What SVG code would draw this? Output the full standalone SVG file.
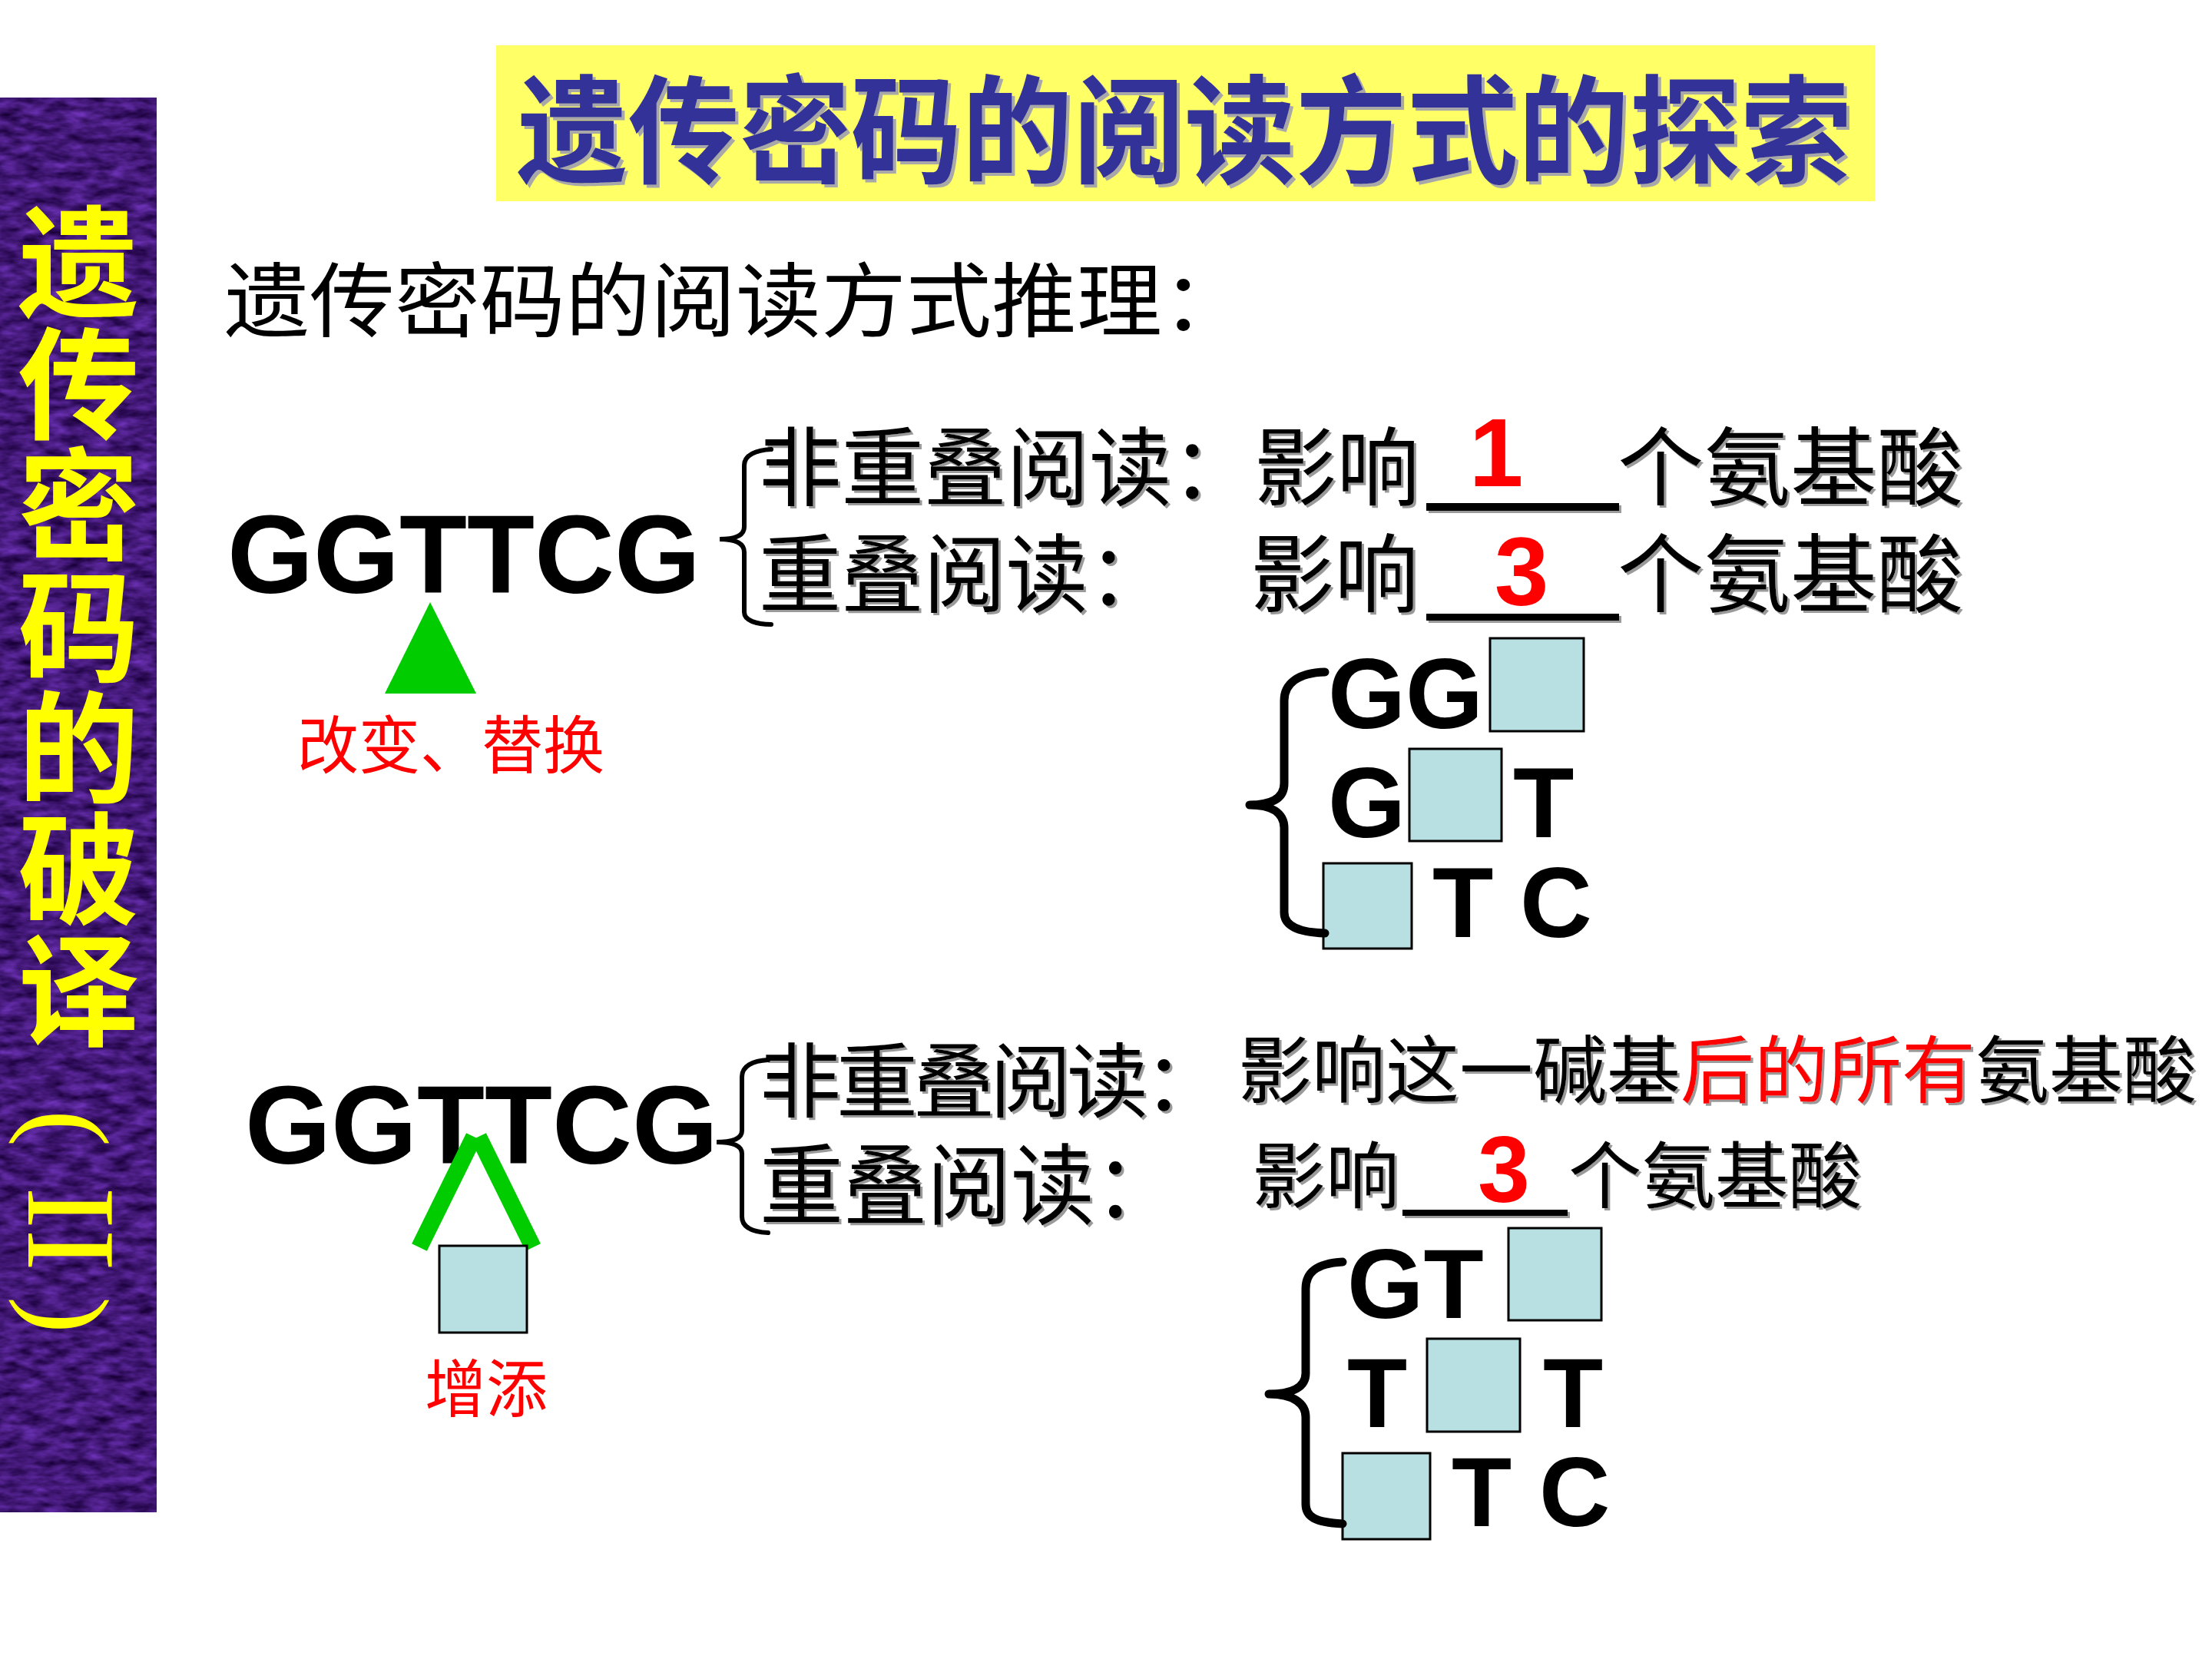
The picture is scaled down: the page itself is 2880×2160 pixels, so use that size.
<svg xmlns="http://www.w3.org/2000/svg" width="2880" height="2160" viewBox="0 0 2880 2160">
<defs>
<filter id="tex" x="0" y="0" width="1" height="1" color-interpolation-filters="sRGB">
<feTurbulence type="fractalNoise" baseFrequency="0.035 0.09" numOctaves="3" seed="7"/>
<feColorMatrix type="matrix" values="0.45 0 0 0 0.035  0.275 0 0 0 -0.0425  0.675 0 0 0 0.1275  0 0 0 0 1"/>
</filter>
<filter id="shadow" x="-5%" y="-5%" width="110%" height="120%">
<feOffset dx="4" dy="4" in="SourceAlpha" result="o"/>
<feFlood flood-color="#a8a8a8"/>
<feComposite in2="o" operator="in" result="s"/>
<feMerge><feMergeNode in="s"/><feMergeNode in="SourceGraphic"/></feMerge>
</filter>
<filter id="shadow2" x="-5%" y="-5%" width="110%" height="120%">
<feOffset dx="3" dy="3" in="SourceAlpha" result="o"/>
<feFlood flood-color="#9a9a9a"/>
<feComposite in2="o" operator="in" result="s"/>
<feMerge><feMergeNode in="s"/><feMergeNode in="SourceGraphic"/></feMerge>
</filter>
</defs>
<style>
.cjk{font-family:"Liberation Sans","Noto Sans CJK SC","Noto Sans CJK JP",sans-serif;}
.lat{font-family:"Liberation Sans",Arial,sans-serif;font-weight:bold;}
.ser{font-family:"Liberation Serif","Times New Roman",serif;}
.vert{writing-mode:vertical-rl;fill:#ffff00;}
.blk{fill:#000;}
.red{fill:#ff0000;}
.box{fill:#b8dfe2;stroke:#000;stroke-width:3;}
.brace{fill:none;stroke:#000;stroke-width:11;stroke-linecap:round;stroke-linejoin:round;}
.thin{fill:none;stroke:#000;stroke-width:6;stroke-linecap:round;}
.ul{fill:#000;}
</style>
<rect width="2880" height="2160" fill="#ffffff"/>

<g id="side-bar">
<rect x="0" y="127" width="204" height="1842" fill="#3a1670" filter="url(#tex)"/>
<text class="cjk vert" x="89" y="262" font-size="158" font-weight="bold">遗传密码的破译</text>
<text class="ser vert" x="90" y="1445" font-size="144">(</text>
<text class="ser vert" x="92" y="1545" font-size="165">II</text>
<text class="ser vert" x="90" y="1688" font-size="144">)</text>
</g>

<g id="title">
<rect x="646" y="59" width="1795" height="203" fill="#ffff66"/>
<text class="cjk" x="673" y="227" font-size="153" font-weight="bold" fill="#333399" textLength="1738" lengthAdjust="spacingAndGlyphs" filter="url(#shadow)">遗传密码的阅读方式的探索</text>
</g>

<g id="subtitle">
<text class="cjk blk" x="292" y="430" font-size="106" textLength="1332" lengthAdjust="spacingAndGlyphs">遗传密码的阅读方式推理：</text>
</g>

<g id="seq1">
<text class="lat blk" x="296" y="772" font-size="144">GGTTCG</text>
</g>

<g id="change-marker">
<polygon points="560,784 501,903 620,903" fill="#00cc00"/>
<text class="cjk red" x="387" y="1000" font-size="82" textLength="400" lengthAdjust="spacingAndGlyphs">改变、替换</text>
</g>

<g id="block1-lines" filter="url(#shadow2)">
<text class="cjk blk" x="988" y="650" font-size="112" textLength="860" lengthAdjust="spacingAndGlyphs">非重叠阅读：影响</text>
<rect class="ul" x="1857" y="655" width="251" height="10"/>
<text class="cjk blk" x="2106" y="650" font-size="112" textLength="450" lengthAdjust="spacingAndGlyphs">个氨基酸</text>
<text class="cjk blk" x="988" y="789" font-size="112" textLength="536" lengthAdjust="spacingAndGlyphs">重叠阅读：</text>
<text class="cjk blk" x="1628" y="789" font-size="112" textLength="219" lengthAdjust="spacingAndGlyphs">影响</text>
<rect class="ul" x="1857" y="799" width="251" height="9"/>
<text class="cjk blk" x="2106" y="789" font-size="112" textLength="450" lengthAdjust="spacingAndGlyphs">个氨基酸</text>
</g>
<g id="block1-answers">
<text class="lat red" x="1948" y="633" font-size="127" text-anchor="middle">1</text>
<text class="lat red" x="1981" y="788" font-size="127" text-anchor="middle">3</text>
</g>

<g id="block1-frames">
<rect class="box" x="1940" y="831" width="122" height="121"/>
<text class="lat blk" x="1729" y="948" font-size="130">GG</text>
<rect class="box" x="1835" y="975" width="120" height="120"/>
<text class="lat blk" x="1729" y="1090" font-size="130">G</text>
<text class="lat blk" x="1970" y="1090" font-size="130">T</text>
<rect class="box" x="1723" y="1124" width="115" height="111"/>
<text class="lat blk" x="1865" y="1220" font-size="130">T</text>
<text class="lat blk" x="1979" y="1220" font-size="130">C</text>
</g>

<g id="seq2">
<text class="lat blk" x="319" y="1515" font-size="144">GGTTCG</text>
</g>

<g id="insert-marker">
<line x1="546" y1="1624" x2="617" y2="1480" stroke="#00cc00" stroke-width="22"/>
<line x1="623" y1="1480" x2="694" y2="1624" stroke="#00cc00" stroke-width="22"/>
<rect class="box" x="572" y="1622" width="114" height="113"/>
<text class="cjk red" x="553" y="1838" font-size="82" textLength="160" lengthAdjust="spacingAndGlyphs">增添</text>
</g>

<g id="block2-lines" filter="url(#shadow2)">
<text class="cjk"><tspan x="989" y="1446" font-size="106" fill="#000" style="letter-spacing:-6px">非重叠阅读：</tspan><tspan x="1612" y="1428" font-size="96" fill="#000">影响这一碱基</tspan><tspan font-size="96" fill="#ff0000">后的所有</tspan><tspan font-size="96" fill="#000">氨基酸</tspan></text>
<text class="cjk blk" x="989" y="1585" font-size="115" textLength="545" lengthAdjust="spacingAndGlyphs">重叠阅读：</text>
<text class="cjk blk" x="1630" y="1566" font-size="95" textLength="192" lengthAdjust="spacingAndGlyphs">影响</text>
<rect class="ul" x="1826" y="1575" width="215" height="8"/>
<text class="cjk blk" x="2042" y="1566" font-size="95" textLength="382" lengthAdjust="spacingAndGlyphs">个氨基酸</text>
</g>
<g id="block2-answer">
<text class="lat red" x="1958" y="1565" font-size="122" text-anchor="middle">3</text>
</g>

<g id="block2-frames">
<rect class="box" x="1964" y="1599" width="121" height="120"/>
<text class="lat blk" x="1754" y="1716" font-size="128">GT</text>
<rect class="box" x="1858" y="1743" width="121" height="121"/>
<text class="lat blk" x="1754" y="1858" font-size="128">T</text>
<text class="lat blk" x="2009" y="1858" font-size="128">T</text>
<rect class="box" x="1748" y="1892" width="114" height="112"/>
<text class="lat blk" x="1890" y="1987" font-size="128">T</text>
<text class="lat blk" x="2004" y="1987" font-size="128">C</text>
</g>

<g id="connectors">
<path class="thin" d="M1004,585 C985,586 969,592 969,606 L969,686 C969,697 958,702 937,702 C958,702 969,708 969,719 L969,797 C969,808 985,813 1004,813"/>
<path class="thin" d="M1000,1380 C980,1381 966,1388 966,1402 L966,1472 C966,1482 955,1487 933,1487 C955,1487 966,1492 966,1502 L966,1584 C966,1598 980,1604 1000,1605"/>
<path class="brace" d="M1725,875 C1690,876 1672,890 1672,912 L1672,1020 C1672,1040 1655,1048 1627,1048 C1655,1048 1672,1058 1672,1078 L1672,1188 C1672,1205 1690,1214 1725,1215"/>
<path class="brace" d="M1748,1643 C1712,1645 1700,1658 1700,1678 L1700,1788 C1700,1805 1685,1815 1652,1815 C1685,1815 1700,1828 1700,1845 L1700,1958 C1700,1975 1712,1982 1748,1984"/>
</g>
</svg>
